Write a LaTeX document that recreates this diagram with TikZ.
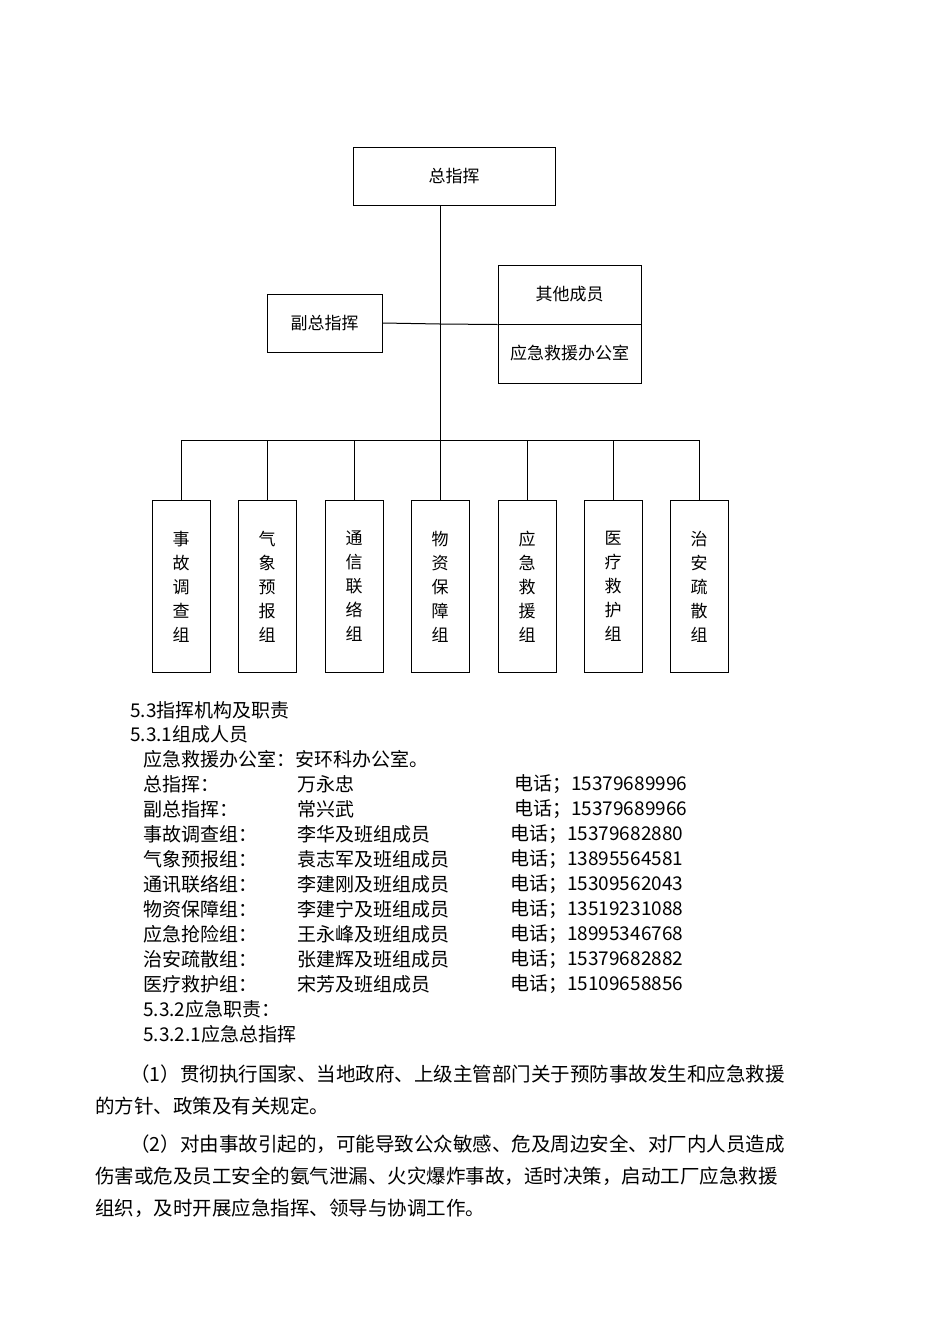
\documentclass[tikz,border=0pt]{standalone}
\usepackage{fontspec}
\setmainfont{Liberation Serif}
\newfontfamily\cjk{Noto Sans CJK SC}
\begin{document}
\begin{tikzpicture}[x=1pt,y=-1pt,
  box/.style={draw,line width=1pt,inner sep=0pt},
  lbl/.style={font=\cjk\fontsize{17}{20}\selectfont},
  vbox/.style={draw,line width=1pt,minimum width=58pt,minimum height=172pt,anchor=north,inner sep=0pt,align=center,font=\cjk\fontsize{17}{24}\selectfont},
  txt/.style={anchor=west,inner sep=0pt,font=\cjk\fontsize{19}{22}\selectfont},
  par/.style={anchor=west,inner sep=0pt,font=\cjk\fontsize{19.5}{22}\selectfont},
  ln/.style={line width=1pt}]
\useasboundingbox (0,0) rectangle (950,1344);
\node[box,minimum width=202pt,minimum height=58pt,lbl] (top) at (454,176) {总指挥};
\node[box,minimum width=115pt,minimum height=58pt,lbl] (vice) at (324.5,323) {副总指挥};
\node[box,minimum width=143pt,minimum height=59pt,lbl] (other) at (569.5,294.5) {其他成员};
\node[box,minimum width=143pt,minimum height=59pt,lbl] (office) at (569.5,353.5) {应急救援办公室};
\coordinate (j1) at (440,324);
\coordinate (j2) at (440,440);
\draw[ln] (440,205) -- (j2);
\draw[ln] (vice.east) -- (j1) -- (other.south west);
\draw[ln] (181,440) -- (699,440);
\foreach \x/\n/\t in {181/g1/{事\\故\\调\\查\\组},267/g2/{气\\象\\预\\报\\组},354/g3/{通\\信\\联\\络\\组},440/g4/{物\\资\\保\\障\\组},527/g5/{应\\急\\救\\援\\组},613/g6/{医\\疗\\救\\护\\组},699/g7/{治\\安\\疏\\散\\组}}{
  \node[vbox] (\n) at (\x,500) {\t};
  \draw[ln] (\x,440) -- (\n.north);
}
\node[txt] (t1) at (130,710) {5.3指挥机构及职责};
\node[txt] (t2) at (130,734) {5.3.1组成人员};
\node[txt] (t3) at (143,759) {应急救援办公室：安环科办公室。};
\foreach \y/\a/\b/\c in {784/总指挥：/万永忠/电话；15379689996,809/副总指挥：/常兴武/电话；15379689966}{
  \node[txt] at (143,\y) {\a}; \node[txt] at (297,\y) {\b}; \node[txt] at (514,\y) {\c};}
\foreach \y/\a/\b/\c in {834/事故调查组：/李华及班组成员/电话；15379682880,859/气象预报组：/袁志军及班组成员/电话；13895564581,884/通讯联络组：/李建刚及班组成员/电话；15309562043,909/物资保障组：/李建宁及班组成员/电话；13519231088,934/应急抢险组：/王永峰及班组成员/电话；18995346768,959/治安疏散组：/张建辉及班组成员/电话；15379682882,984/医疗救护组：/宋芳及班组成员/电话；15109658856}{
  \node[txt] at (143,\y) {\a}; \node[txt] at (297,\y) {\b}; \node[txt] at (510,\y) {\c};}
\node[txt] (t4) at (143,1009) {5.3.2应急职责：};
\node[txt] (t5) at (143,1034) {5.3.2.1应急总指挥};
\node[par] (p1) at (130,1074) {（1）贯彻执行国家、当地政府、上级主管部门关于预防事故发生和应急救援};
\node[par] (p2) at (95,1106) {的方针、政策及有关规定。};
\node[par] (p3) at (130,1144) {（2）对由事故引起的，可能导致公众敏感、危及周边安全、对厂内人员造成};
\node[par] (p4) at (95,1176) {伤害或危及员工安全的氨气泄漏、火灾爆炸事故，适时决策，启动工厂应急救援};
\node[par] (p5) at (95,1208) {组织，及时开展应急指挥、领导与协调工作。};
\end{tikzpicture}
\end{document}
